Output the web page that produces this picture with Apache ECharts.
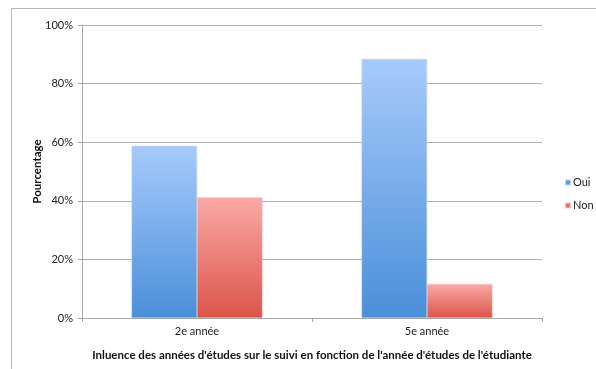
<!DOCTYPE html>
<html>
<head>
<meta charset="utf-8">
<script src="https://cdn.jsdelivr.net/npm/echarts@6/dist/echarts.min.js"></script>
<style>
  html, body { margin: 0; padding: 0; background: #fff; }
  #chart { width: 596px; height: 369px; }
</style>
</head>
<body>
<div id="chart"></div>
<script>
// Categories (study year) and share of answers per group, in percent
const categories = ['2e année', '5e année'];
const ouiValues = [58.8, 88.4];
const nonValues = [41.2, 11.6];
const yTicks = [0, 20, 40, 60, 80, 100];

const FONT = 'Lato, "Open Sans", sans-serif';

function vGrad(top, bottom) {
  return new echarts.graphic.LinearGradient(0, 0, 0, 1, [
    { offset: 0, color: top },
    { offset: 1, color: bottom }
  ]);
}

const chart = echarts.init(document.getElementById('chart'), null, { renderer: 'canvas' });

chart.setOption({
  animation: false,
  backgroundColor: '#ffffff',
  textStyle: { fontFamily: FONT },
  graphic: [
    {
      type: 'rect',
      shape: { x: 11.5, y: 8.5, width: 640, height: 400 },
      style: { fill: 'none', stroke: '#b8b8b8', lineWidth: 1 },
      z: -1
    }
  ],
  grid: { left: 82, right: 54, top: 25, bottom: 51, containLabel: false },
  legend: {
    orient: 'vertical',
    left: 564,
    top: 177,
    padding: 0,
    itemWidth: 6,
    itemHeight: 6,
    itemGap: 12,
    icon: 'rect',
    textStyle: { fontFamily: FONT, fontSize: 11, color: '#222', padding: [0, 0, 0, -3] },
    data: [
      { name: 'Oui', itemStyle: { color: '#5d9ce6' } },
      { name: 'Non', itemStyle: { color: '#e8706a' } }
    ]
  },
  xAxis: {
    type: 'category',
    data: categories,
    name: "Inluence des années d'études sur le suivi en fonction de l'année d'études de l'étudiante",
    nameLocation: 'middle',
    nameGap: 31,
    nameMoveOverlap: false,
    nameTextStyle: { fontFamily: FONT, fontSize: 11.5, fontWeight: 'bold', color: '#111' },
    axisLine: { lineStyle: { color: '#a8a8a8', width: 1 } },
    axisTick: { show: true, alignWithLabel: false, length: 4, lineStyle: { color: '#a8a8a8' } },
    axisLabel: { fontFamily: FONT, fontSize: 11, color: '#222', margin: 8 }
  },
  yAxis: {
    type: 'value',
    min: yTicks[0],
    max: yTicks[yTicks.length - 1],
    interval: yTicks[1] - yTicks[0],
    name: 'Pourcentage',
    nameLocation: 'middle',
    nameGap: 39,
    nameMoveOverlap: false,
    nameRotate: 90,
    nameTextStyle: { fontFamily: FONT, fontSize: 11.5, fontWeight: 'bold', color: '#111' },
    axisLine: { show: true, lineStyle: { color: '#a8a8a8', width: 1 } },
    axisTick: { show: true, length: 4, lineStyle: { color: '#a8a8a8' } },
    axisLabel: { fontFamily: FONT, fontSize: 11, color: '#222', margin: 9, formatter: '{value}%' },
    splitLine: { show: true, lineStyle: { color: '#b0b0b0', width: 1 } }
  },
  series: [
    {
      name: 'Oui',
      type: 'bar',
      data: ouiValues,
      barWidth: 65.5,
      barGap: '0%',
      itemStyle: {
        color: vGrad('#a7cafb', '#4a8fd9'),
        borderColor: 'rgba(255,255,255,0.6)',
        borderWidth: 0.5,
        shadowColor: 'rgba(0,0,0,0.12)',
        shadowBlur: 2
      }
    },
    {
      name: 'Non',
      type: 'bar',
      data: nonValues,
      barWidth: 65.5,
      barGap: '0%',
      itemStyle: {
        color: vGrad('#fba9a5', '#db544a'),
        borderColor: 'rgba(255,255,255,0.6)',
        borderWidth: 0.5,
        shadowColor: 'rgba(0,0,0,0.12)',
        shadowBlur: 2
      }
    }
  ]
});
</script>
</body>
</html>
